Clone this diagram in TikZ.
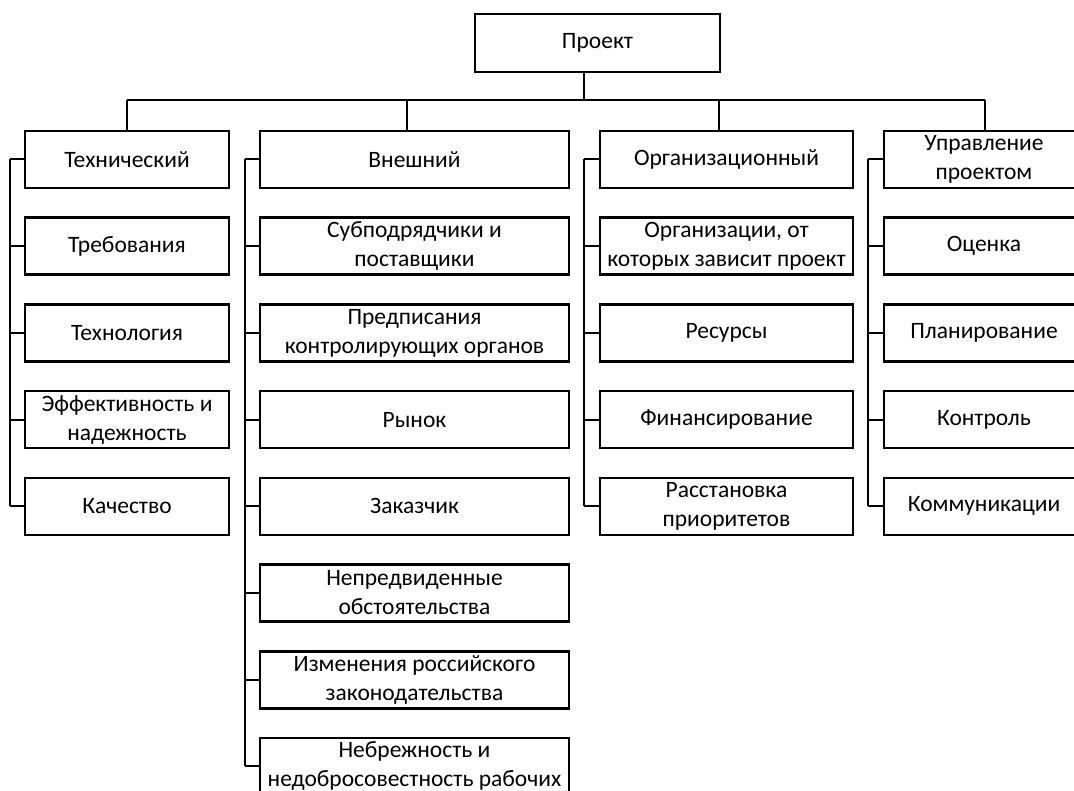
\documentclass[tikz,border=0pt]{standalone}
\usepackage{fontspec}
\setmainfont{Carlito}

\begin{document}
\begin{tikzpicture}[x=1pt,y=-1pt]
 \tikzset{box/.style = {draw, line width=2.6pt, align=center, inner sep=0pt, minimum height=57pt, font=\fontsize{23.5}{29}\selectfont}}
 \tikzset{cA/.style = {box, minimum width=204pt}}
 \tikzset{cB/.style = {box, minimum width=309pt}}
 \tikzset{cC/.style = {box, minimum width=253pt}}
 \tikzset{cD/.style = {box, minimum width=200pt}}
 \tikzset{link/.style = {line width=2pt}}
 \useasboundingbox (0,0) rectangle (1074,791);
 \clip (0,0) rectangle (1074,791);
 % top
 \node[box, minimum width=245pt, minimum height=58pt] (proj) at (597.5,43) {Проект};
 % columns
 \node[cA] (tech) at (127,159.5) {Технический};
 \node[cA] (treb) at (127,246.2) {Требования};
 \node[cA] (tehn) at (127,332.9) {Технология};
 \node[cA] (eff) at (127,419.6) {Эффективность и\\надежность};
 \node[cA] (kach) at (127,506.3) {Качество};

 \node[cB] (vnesh) at (414.5,159.5) {Внешний};
 \node[cB] (subp) at (414.5,246.2) {Субподрядчики и\\поставщики};
 \node[cB] (pred) at (414.5,332.9) {Предписания\\контролирующих органов};
 \node[cB] (rynok) at (414.5,419.6) {Рынок};
 \node[cB] (zak) at (414.5,506.3) {Заказчик};
 \node[cB] (nepr) at (414.5,593) {Непредвиденные\\обстоятельства};
 \node[cB] (izm) at (414.5,679.7) {Изменения российского\\законодательства};
 \node[cB] (nebr) at (414.5,766.4) {Небрежность и\\недобросовестность рабочих};

 \node[cC] (org) at (726.5,159.5) {Организационный};
 \node[cC] (orgz) at (726.5,246.2) {Организации, от\\которых зависит проект};
 \node[cC] (res) at (726.5,332.9) {Ресурсы};
 \node[cC] (fin) at (726.5,419.6) {Финансирование};
 \node[cC] (rasst) at (726.5,506.3) {Расстановка\\приоритетов};

 \node[cD] (upr) at (984,159.5) {Управление\\проектом};
 \node[cD] (ots) at (984,246.2) {Оценка};
 \node[cD] (plan) at (984,332.9) {Планирование};
 \node[cD] (kontr) at (984,419.6) {Контроль};
 \node[cD] (komm) at (984,506.3) {Коммуникации};

 % bus
 \coordinate (hub) at (584,100);
 \coordinate (d1) at (127,100);
 \coordinate (d2) at (407,100);
 \coordinate (d3) at (719,100);
 \coordinate (d4) at (985,100);
 \draw[link] (hub |- proj.south) -- (hub);
 \draw[line width=2.6pt] (d1) -- (d4);
 \draw[link] (d1) -- (d1 |- tech.north);
 \draw[line width=2.6pt] (d2) -- (d2 |- vnesh.north);
 \draw[link] (d3) -- (d3 |- org.north);
 \draw[link] (d4) -- (d4 |- upr.north);

 % side lines
 \coordinate (v1) at (10,0);
 \coordinate (v2) at (245,0);
 \coordinate (v3) at (584,0);
 \coordinate (v4) at (868,0);
 \draw[link] (v1 |- tech.west) -- (v1 |- kach.west);
 \draw[link] (v2 |- vnesh.west) -- (v2 |- nebr.west);
 \draw[link] (v3 |- org.west) -- (v3 |- rasst.west);
 \draw[link] (v4 |- upr.west) -- (v4 |- komm.west);
 \foreach \n in {tech,treb,tehn,eff,kach} \draw[link] (v1 |- \n.west) -- (\n.west);
 \foreach \n in {vnesh,subp,pred,rynok,zak,nepr,izm,nebr} \draw[link] (v2 |- \n.west) -- (\n.west);
 \foreach \n in {org,orgz,res,fin,rasst} \draw[link] (v3 |- \n.west) -- (\n.west);
 \foreach \n in {upr,ots,plan,kontr,komm} \draw[link] (v4 |- \n.west) -- (\n.west);
\end{tikzpicture}
\end{document}
